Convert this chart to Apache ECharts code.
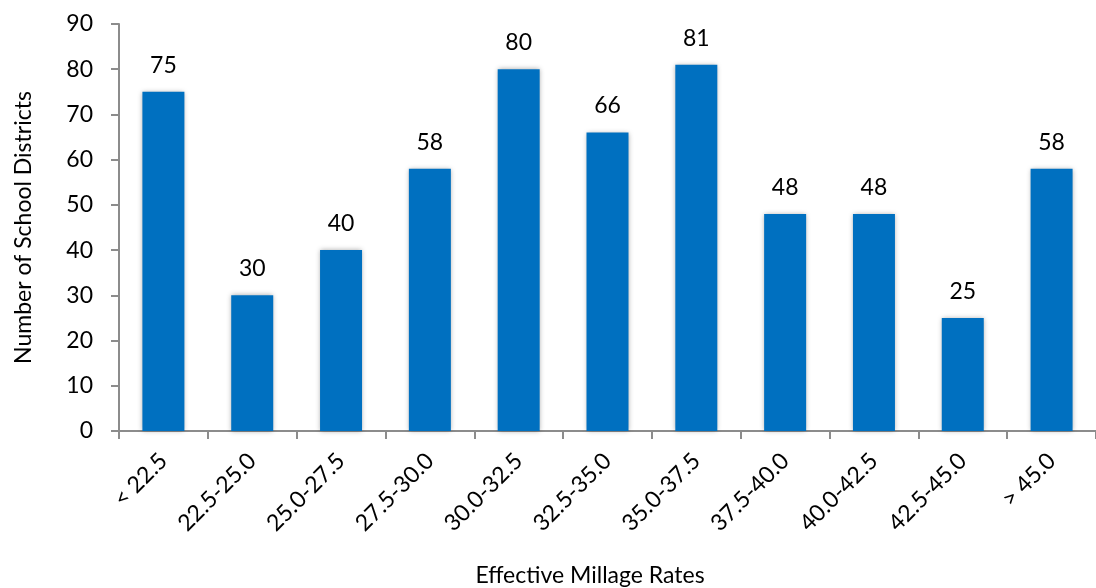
<!DOCTYPE html>
<html><head><meta charset="utf-8">
<script src="https://cdn.jsdelivr.net/npm/echarts@6/dist/echarts.min.js"></script>
<style>html,body{margin:0;padding:0;background:#fff}#c{width:1096px;height:588px}</style>
</head><body><div id="c"></div>
<script>
const categories = ['< 22.5','22.5-25.0','25.0-27.5','27.5-30.0','30.0-32.5','32.5-35.0','35.0-37.5','37.5-40.0','40.0-42.5','42.5-45.0','> 45.0'];
const districts = [75,30,40,58,80,66,81,48,48,25,58];
const yTicks = {min:0,max:90,interval:10};
const FONT = 'Lato, "Open Sans", sans-serif';
const FS = 23;
const chart = echarts.init(document.getElementById('c'));
chart.setOption({
  animation:false,
  textStyle:{fontFamily:FONT},
  grid:{left:119,top:24,right:-9,bottom:157,containLabel:false},
  xAxis:{type:'category',data:categories,
    axisLine:{lineStyle:{color:'#8c8c8c',width:2}},
    axisTick:{show:true,length:8,lineStyle:{color:'#8c8c8c',width:2},alignWithLabel:false},
    axisLabel:{rotate:45,fontSize:FS,color:'#000',margin:26,fontFamily:FONT,interval:0}
  },
  yAxis:{type:'value',min:yTicks.min,max:yTicks.max,interval:yTicks.interval,
    name:'Number of School Districts',nameLocation:'middle',nameGap:84,nameRotate:90,
    nameTextStyle:{fontSize:FS,color:'#000',fontFamily:FONT},
    axisLine:{show:true,lineStyle:{color:'#8c8c8c',width:2}},
    axisTick:{show:true,length:8,lineStyle:{color:'#8c8c8c',width:2}},
    splitLine:{show:false},
    axisLabel:{fontSize:FS,color:'#000',margin:26,fontFamily:FONT}
  },
  graphic:[{type:'text',style:{text:'Effective Millage Rates',fontSize:FS,fill:'#000',fontFamily:FONT,textAlign:'center',textVerticalAlign:'middle'},position:[590,576]}],
  series:[{type:'bar',data:districts,barWidth:42,
    itemStyle:{color:'#0070C0',shadowBlur:5,shadowColor:'rgba(0,0,0,0.35)',shadowOffsetX:0,shadowOffsetY:0},
    label:{show:true,position:'top',distance:15,fontSize:FS,color:'#000',fontFamily:FONT}
  }]
});
</script></body></html>
